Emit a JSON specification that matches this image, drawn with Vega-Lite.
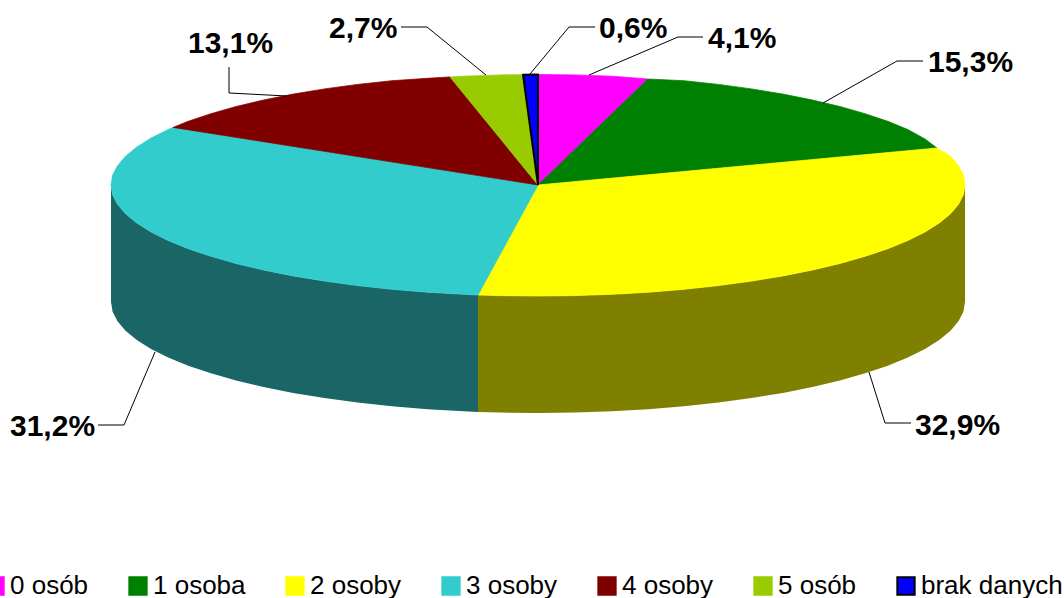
{
"$schema":"https://vega.github.io/schema/vega-lite/v6.json",
"width":1064,"height":598,"padding":0,"autosize":{"type":"none"},
"background":"white",
"config":{"view":{"stroke":null},"font":"Liberation Sans"},
"datasets":{
"walls":[
{"wall":"olive","x":-60,"y":-110,"y2":-227},{"wall":"olive","x":-37.2,"y":-110.6,"y2":-227.6},{"wall":"olive","x":0,"y":-111,"y2":-228},{"wall":"olive","x":37.2,"y":-110.6,"y2":-227.6},{"wall":"olive","x":74.1,"y":-109.3,"y2":-226.3},{"wall":"olive","x":110.5,"y":-107.2,"y2":-224.2},{"wall":"olive","x":146,"y":-104.3,"y2":-221.3},{"wall":"olive","x":180.5,"y":-100.6,"y2":-217.6},{"wall":"olive","x":213.5,"y":-96.1,"y2":-213.1},{"wall":"olive","x":244.9,"y":-90.9,"y2":-207.9},{"wall":"olive","x":274.5,"y":-85,"y2":-202},{"wall":"olive","x":301.9,"y":-78.5,"y2":-195.5},{"wall":"olive","x":327.1,"y":-71.3,"y2":-188.3},{"wall":"olive","x":349.8,"y":-63.7,"y2":-180.7},{"wall":"olive","x":369.8,"y":-55.5,"y2":-172.5},{"wall":"olive","x":387,"y":-46.9,"y2":-163.9},{"wall":"olive","x":401.2,"y":-38,"y2":-155},{"wall":"olive","x":412.5,"y":-28.7,"y2":-145.7},{"wall":"olive","x":420.5,"y":-19.3,"y2":-136.3},{"wall":"olive","x":425.4,"y":-9.7,"y2":-126.7},{"wall":"olive","x":427,"y":0,"y2":-117},
{"wall":"teal","x":-427,"y":0,"y2":-117},{"wall":"teal","x":-425.4,"y":-9.7,"y2":-126.7},{"wall":"teal","x":-420.5,"y":-19.3,"y2":-136.3},{"wall":"teal","x":-412.5,"y":-28.7,"y2":-145.7},{"wall":"teal","x":-401.2,"y":-38,"y2":-155},{"wall":"teal","x":-387,"y":-46.9,"y2":-163.9},{"wall":"teal","x":-369.8,"y":-55.5,"y2":-172.5},{"wall":"teal","x":-349.8,"y":-63.7,"y2":-180.7},{"wall":"teal","x":-327.1,"y":-71.3,"y2":-188.3},{"wall":"teal","x":-301.9,"y":-78.5,"y2":-195.5},{"wall":"teal","x":-274.5,"y":-85,"y2":-202},{"wall":"teal","x":-244.9,"y":-90.9,"y2":-207.9},{"wall":"teal","x":-213.5,"y":-96.1,"y2":-213.1},{"wall":"teal","x":-180.5,"y":-100.6,"y2":-217.6},{"wall":"teal","x":-146,"y":-104.3,"y2":-221.3},{"wall":"teal","x":-110.5,"y":-107.2,"y2":-224.2},{"wall":"teal","x":-74.1,"y":-109.3,"y2":-226.3},{"wall":"teal","x":-60,"y":-110,"y2":-227}
],
"slices":[
{"slice":"0 osób","i":0,"x":0,"y":0},{"slice":"0 osób","i":1,"x":0,"y":110.5},{"slice":"0 osób","i":2,"x":37.2,"y":110.1},{"slice":"0 osób","i":3,"x":74.1,"y":108.8},{"slice":"0 osób","i":4,"x":110,"y":106},{"slice":"0 osób","i":5,"x":0,"y":0},
{"slice":"1 osoba","i":0,"x":0,"y":0},{"slice":"1 osoba","i":1,"x":110,"y":106},{"slice":"1 osoba","i":2,"x":146,"y":104.3},{"slice":"1 osoba","i":3,"x":180.5,"y":100.6},{"slice":"1 osoba","i":4,"x":213.5,"y":96.1},{"slice":"1 osoba","i":5,"x":244.9,"y":90.9},{"slice":"1 osoba","i":6,"x":274.5,"y":85},{"slice":"1 osoba","i":7,"x":301.9,"y":78.5},{"slice":"1 osoba","i":8,"x":327.1,"y":71.3},{"slice":"1 osoba","i":9,"x":349.8,"y":63.7},{"slice":"1 osoba","i":10,"x":369.8,"y":55.5},{"slice":"1 osoba","i":11,"x":387,"y":46},{"slice":"1 osoba","i":12,"x":399,"y":37},{"slice":"1 osoba","i":13,"x":0,"y":0},
{"slice":"2 osoby","i":0,"x":0,"y":0},{"slice":"2 osoby","i":1,"x":399,"y":37},{"slice":"2 osoby","i":2,"x":412.5,"y":28.7},{"slice":"2 osoby","i":3,"x":420.5,"y":19.3},{"slice":"2 osoby","i":4,"x":425.4,"y":9.7},{"slice":"2 osoby","i":5,"x":427,"y":0},{"slice":"2 osoby","i":6,"x":425.4,"y":-9.7},{"slice":"2 osoby","i":7,"x":420.5,"y":-19.3},{"slice":"2 osoby","i":8,"x":412.5,"y":-28.7},{"slice":"2 osoby","i":9,"x":401.2,"y":-38},{"slice":"2 osoby","i":10,"x":387,"y":-46.9},{"slice":"2 osoby","i":11,"x":369.8,"y":-55.5},{"slice":"2 osoby","i":12,"x":349.8,"y":-63.7},{"slice":"2 osoby","i":13,"x":327.1,"y":-71.3},{"slice":"2 osoby","i":14,"x":301.9,"y":-78.5},{"slice":"2 osoby","i":15,"x":274.5,"y":-85},{"slice":"2 osoby","i":16,"x":244.9,"y":-90.9},{"slice":"2 osoby","i":17,"x":213.5,"y":-96.1},{"slice":"2 osoby","i":18,"x":180.5,"y":-100.6},{"slice":"2 osoby","i":19,"x":146,"y":-104.3},{"slice":"2 osoby","i":20,"x":110.5,"y":-107.2},{"slice":"2 osoby","i":21,"x":74.1,"y":-109.3},{"slice":"2 osoby","i":22,"x":37.2,"y":-110.6},{"slice":"2 osoby","i":23,"x":0,"y":-111},{"slice":"2 osoby","i":24,"x":-37.2,"y":-110.6},{"slice":"2 osoby","i":25,"x":-60,"y":-110},{"slice":"2 osoby","i":26,"x":0,"y":0},
{"slice":"3 osoby","i":0,"x":0,"y":0},{"slice":"3 osoby","i":1,"x":-60,"y":-110},{"slice":"3 osoby","i":2,"x":-74.1,"y":-109.3},{"slice":"3 osoby","i":3,"x":-110.5,"y":-107.2},{"slice":"3 osoby","i":4,"x":-146,"y":-104.3},{"slice":"3 osoby","i":5,"x":-180.5,"y":-100.6},{"slice":"3 osoby","i":6,"x":-213.5,"y":-96.1},{"slice":"3 osoby","i":7,"x":-244.9,"y":-90.9},{"slice":"3 osoby","i":8,"x":-274.5,"y":-85},{"slice":"3 osoby","i":9,"x":-301.9,"y":-78.5},{"slice":"3 osoby","i":10,"x":-327.1,"y":-71.3},{"slice":"3 osoby","i":11,"x":-349.8,"y":-63.7},{"slice":"3 osoby","i":12,"x":-369.8,"y":-55.5},{"slice":"3 osoby","i":13,"x":-387,"y":-46.9},{"slice":"3 osoby","i":14,"x":-401.2,"y":-38},{"slice":"3 osoby","i":15,"x":-412.5,"y":-28.7},{"slice":"3 osoby","i":16,"x":-420.5,"y":-19.3},{"slice":"3 osoby","i":17,"x":-425.4,"y":-9.7},{"slice":"3 osoby","i":18,"x":-427,"y":0},{"slice":"3 osoby","i":19,"x":-425.4,"y":9.7},{"slice":"3 osoby","i":20,"x":-420.5,"y":19.3},{"slice":"3 osoby","i":21,"x":-412.5,"y":28.7},{"slice":"3 osoby","i":22,"x":-401.2,"y":38},{"slice":"3 osoby","i":23,"x":-387,"y":46.9},{"slice":"3 osoby","i":24,"x":-369.8,"y":55.5},{"slice":"3 osoby","i":25,"x":-365,"y":57.6},{"slice":"3 osoby","i":26,"x":0,"y":0},
{"slice":"4 osoby","i":0,"x":0,"y":0},{"slice":"4 osoby","i":1,"x":-365,"y":57.6},{"slice":"4 osoby","i":2,"x":-349.8,"y":63.7},{"slice":"4 osoby","i":3,"x":-327.1,"y":71.3},{"slice":"4 osoby","i":4,"x":-301.9,"y":78.5},{"slice":"4 osoby","i":5,"x":-274.5,"y":85},{"slice":"4 osoby","i":6,"x":-244.9,"y":90.9},{"slice":"4 osoby","i":7,"x":-213.5,"y":96.1},{"slice":"4 osoby","i":8,"x":-180.5,"y":100.6},{"slice":"4 osoby","i":9,"x":-146,"y":104.3},{"slice":"4 osoby","i":10,"x":-110.5,"y":106.7},{"slice":"4 osoby","i":11,"x":-88,"y":108.1},{"slice":"4 osoby","i":12,"x":0,"y":0},
{"slice":"5 osób","i":0,"x":0,"y":0},{"slice":"5 osób","i":1,"x":-88,"y":108.1},{"slice":"5 osób","i":2,"x":-74.1,"y":108.8},{"slice":"5 osób","i":3,"x":-37.2,"y":110.1},{"slice":"5 osób","i":4,"x":-15,"y":110.3},{"slice":"5 osób","i":5,"x":0,"y":0},
{"slice":"brak danych","i":0,"x":0,"y":0},{"slice":"brak danych","i":1,"x":-15,"y":110.3},{"slice":"brak danych","i":2,"x":0,"y":110.5},{"slice":"brak danych","i":3,"x":0,"y":0}
],
"leaders":[
{"label":"2,7%","i":0,"x":-137,"y":158},{"label":"2,7%","i":1,"x":-111,"y":158},{"label":"2,7%","i":2,"x":-52,"y":110},
{"label":"0,6%","i":0,"x":57,"y":158},{"label":"0,6%","i":1,"x":31,"y":158},{"label":"0,6%","i":2,"x":-8,"y":111},
{"label":"4,1%","i":0,"x":165,"y":148},{"label":"4,1%","i":1,"x":140,"y":148},{"label":"4,1%","i":2,"x":51,"y":110},
{"label":"15,3%","i":0,"x":385,"y":124},{"label":"15,3%","i":1,"x":359,"y":124},{"label":"15,3%","i":2,"x":285,"y":82},
{"label":"13,1%","i":0,"x":-309,"y":118},{"label":"13,1%","i":1,"x":-309,"y":92},{"label":"13,1%","i":2,"x":-251,"y":89},
{"label":"31,2%","i":0,"x":-440,"y":-240},{"label":"31,2%","i":1,"x":-414,"y":-240},{"label":"31,2%","i":2,"x":-383,"y":-167},
{"label":"32,9%","i":0,"x":373,"y":-238},{"label":"32,9%","i":1,"x":347,"y":-238},{"label":"32,9%","i":2,"x":331,"y":-187}
],
"labels":[
{"label":"2,7%","x":-209,"y":147},{"label":"0,6%","x":61,"y":147},{"label":"4,1%","x":170,"y":137},{"label":"15,3%","x":390,"y":113},{"label":"13,1%","x":-350,"y":132},{"label":"31,2%","x":-528,"y":-251},{"label":"32,9%","x":377,"y":-250}
]
},
"encoding":{
"x":{"field":"x","type":"quantitative","axis":null,"scale":{"domain":[-538,526],"nice":false,"zero":false}},
"y":{"field":"y","type":"quantitative","axis":null,"scale":{"domain":[-413,185],"nice":false,"zero":false}}
},
"layer":[
{"data":{"name":"walls"},"transform":[{"filter":"datum.wall==='olive'"}],"mark":{"type":"area","color":"#808000"},"encoding":{"y2":{"field":"y2"}}},
{"data":{"name":"walls"},"transform":[{"filter":"datum.wall==='teal'"}],"mark":{"type":"area","color":"#1A6666"},"encoding":{"y2":{"field":"y2"}}},
{"data":{"name":"slices"},"mark":{"type":"line","strokeJoin":"round"},
"encoding":{
"order":{"field":"i","type":"quantitative"},
"strokeWidth":{"condition":{"test":"datum.slice==='brak danych'","value":2},"value":0.75},
"fill":{"field":"slice","type":"nominal","scale":{"domain":["0 osób","1 osoba","2 osoby","3 osoby","4 osoby","5 osób","brak danych"],"range":["#FF00FF","#008000","#FFFF00","#33CCCC","#800000","#99CC00","#0000FF"]},
"legend":{"title":null,"orient":"none","legendX":-18,"legendY":573,"direction":"horizontal","columns":7,"columnPadding":36,"gridAlign":"each","symbolType":"square","symbolSize":300,"symbolStrokeWidth":2,"labelFont":"Liberation Sans","labelFontSize":26,"labelColor":"#000000","labelOffset":2,"labelLimit":300,"symbolOpacity":1}},
"stroke":{"field":"slice","type":"nominal","scale":{"domain":["0 osób","1 osoba","2 osoby","3 osoby","4 osoby","5 osób","brak danych"],"range":["#FF00FF","#008000","#FFFF00","#33CCCC","#800000","#99CC00","#000000"]},"legend":{"title":null,"orient":"none","legendX":-18,"legendY":573,"direction":"horizontal","columns":7,"columnPadding":36,"gridAlign":"each","symbolType":"square","symbolSize":300,"symbolStrokeWidth":2,"labelFont":"Liberation Sans","labelFontSize":26,"labelColor":"#000000","labelOffset":2,"labelLimit":300}}
}},
{"data":{"name":"leaders"},"mark":{"type":"line","color":"#000000","strokeWidth":1},"encoding":{"detail":{"field":"label"},"order":{"field":"i","type":"quantitative"}}},
{"data":{"name":"labels"},"mark":{"type":"text","align":"left","baseline":"alphabetic","font":"Liberation Sans","fontWeight":"bold","fontSize":30,"color":"#000000"},"encoding":{"text":{"field":"label"}}}
]
}
